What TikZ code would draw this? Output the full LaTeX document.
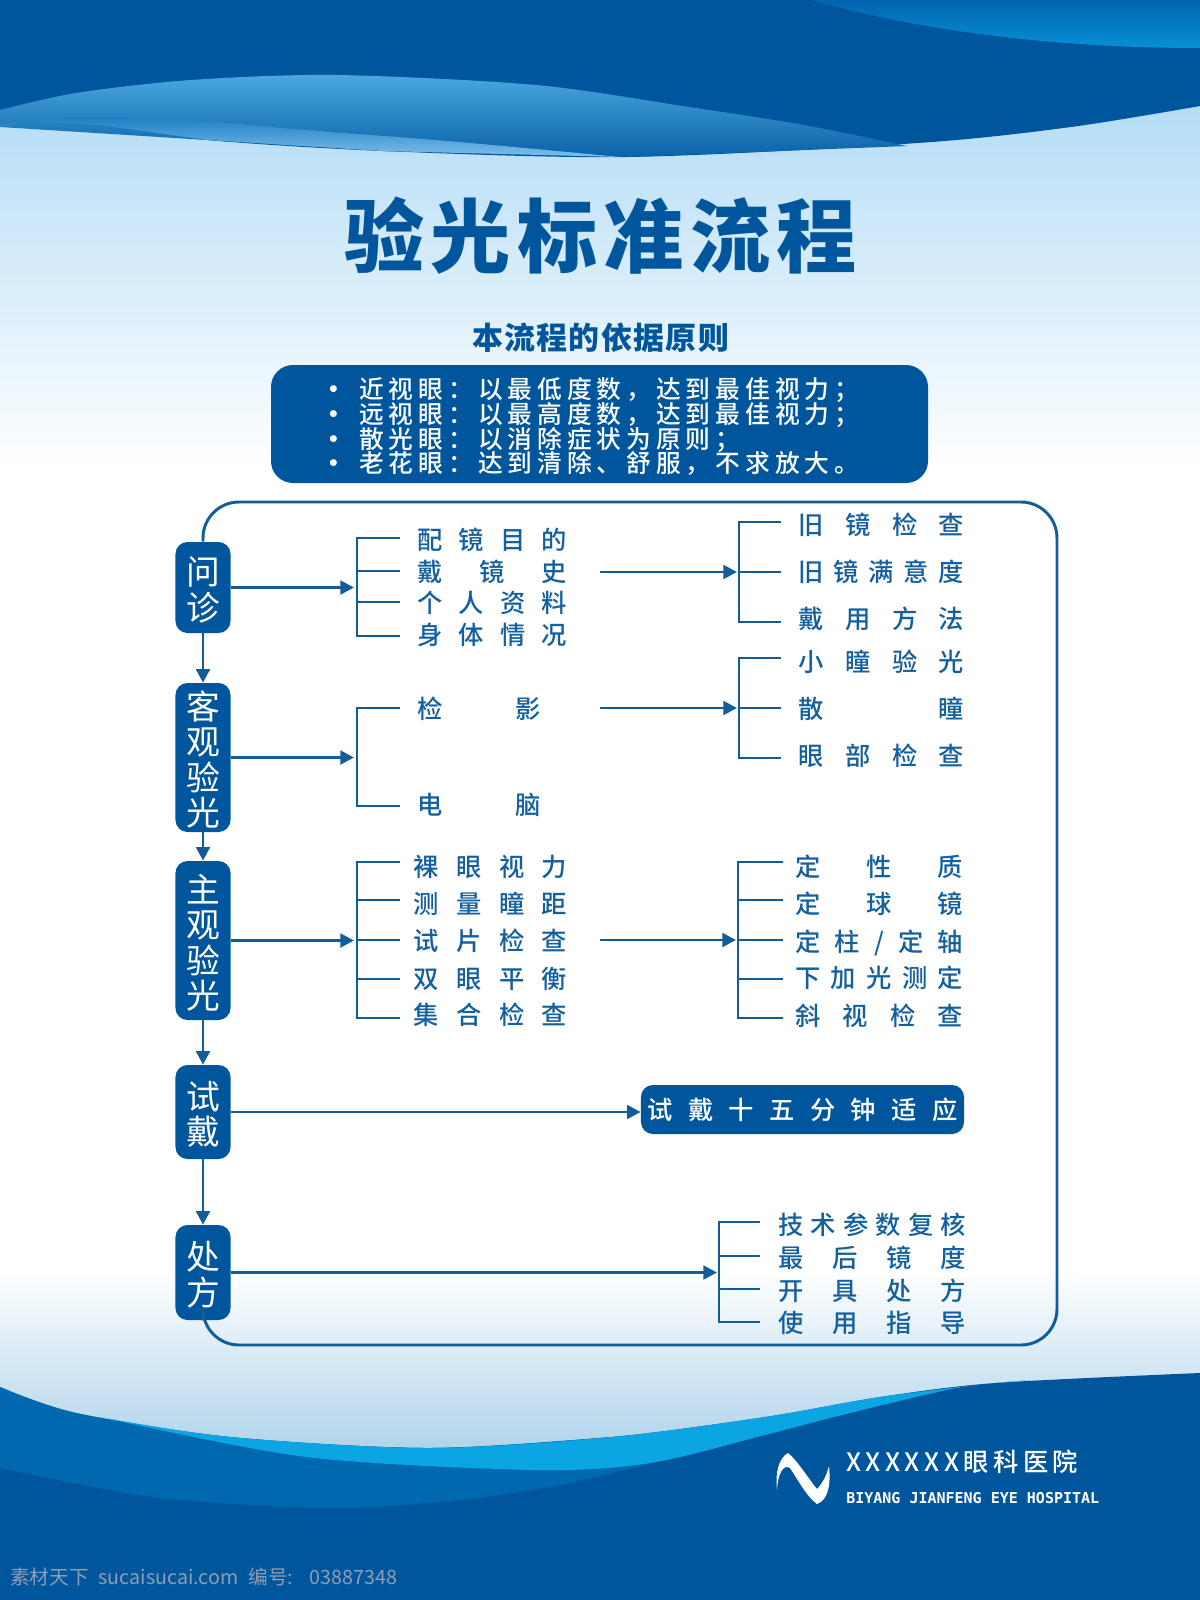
\documentclass[tikz,border=0pt]{standalone}
\usepackage{fontspec}
\setmainfont{Noto Sans CJK SC}
\newfontfamily\heavyfont{Noto Sans CJK SC Black}
\newfontfamily\itemfont{Noto Sans CJK SC Medium}
\newfontfamily\spacedfont[LetterSpace=20]{Noto Sans CJK SC Medium}
\setmonofont{DejaVu Sans Mono}
\usetikzlibrary{arrows.meta}
\definecolor{darkblue}{HTML}{00569C}
\definecolor{midblue}{HTML}{0068AE}
\definecolor{cyanblue}{HTML}{0AA5E2}
\definecolor{lineblue}{HTML}{145C98}
\definecolor{textblue}{HTML}{145F9E}
\definecolor{skyblue}{HTML}{B4DCF6}
\definecolor{wavetop}{HTML}{4AA8E0}
\definecolor{wavelow}{HTML}{0A62A8}
\definecolor{cornertop}{HTML}{0264AE}
\definecolor{cornerlow}{HTML}{0790D6}
\definecolor{foldtop}{HTML}{1E7EC4}
\definecolor{foldlow}{HTML}{7EBEEA}
\definecolor{markgrey}{HTML}{8F9DB4}
\newlength{\pxu}
\setlength{\pxu}{0.025cm}
\newcommand{\spread}[2]{\makebox[#1\pxu][s]{\spaceskip=0pt plus 1fil\relax #2}}
\newcommand{\stepbox}[4]{\node[stepnode, minimum height=#3*0.025cm] (#1) at (203,#2) {\rule{0pt}{23.5pt}#4};}
\newcommand{\itemlbl}[5]{\node[itemnode] (#1) at (#2,#3) {\spread{#4}{#5}};}
\newcommand{\branch}[4]{\coordinate (#1a) at (#2,#4); \coordinate (#1b) at (#3,#4); \draw[flowline] (#1a) -- (#1b);}
\newcommand{\ruledot}{\makebox[38\pxu][l]{\bfseries •}}
\tikzset{
  flowline/.style={draw=lineblue, line width=2.1pt},
  spine/.style={flowline, line cap=rect},
  flowarrow/.style={flowline, -{Triangle[length=0.34cm,width=0.34cm]}},
  stepnode/.style={fill=darkblue, text=white, rounded corners=0.3cm, minimum width=1.375cm, inner sep=0pt,
    align=center, font=\fontsize{24}{25.2}\selectfont},
  itemnode/.style={anchor=west, inner sep=0pt, text=textblue, text height=0.55cm, text depth=0.075cm,
    font=\fontsize{18}{20}\itemfont},
  rulenode/.style={anchor=west, inner sep=0pt, text=white, text height=0.55cm, text depth=0.075cm,
    font=\fontsize{17.6}{20}\spacedfont},
}
\def\topedge{(1200,106) (1071,127) (918,143) (628,157) (383,151) (207,140) (100,125) (30,121) (0,127)}
\def\botedge{(0,1387) (76,1413) (230,1437) (428,1448) (612,1437) (765,1417) (880,1397) (995,1383) (1200,1373)}
\begin{document}
\begin{tikzpicture}[x=0.025cm,y=-0.025cm]
    \useasboundingbox (0,0) rectangle (1200,1600);
    % background
    \shade[top color=skyblue, bottom color=white] (0,100) rectangle (1200,470);
    \shade[top color=white, bottom color=skyblue!95!black] (0,1270) rectangle (1200,1460);
    % top waves
    \fill[darkblue] (0,0) -- (1200,0) -- plot[smooth] coordinates {\topedge} -- cycle;
    \shade[top color=cornertop, bottom color=cornerlow] (811,0) .. controls (900,25) and (1030,48) .. (1200,48) -- (1200,0) -- cycle;
    \shade[top color=wavetop, bottom color=wavelow]
      plot[smooth] coordinates {(0,110) (76,93) (191,80) (337,75) (536,85) (689,107) (804,125) (907,146)}
      -- (628,157) -- (383,151) -- (207,140) -- (0,127) -- cycle;
    \shade[top color=foldtop, bottom color=foldlow]
      plot[smooth] coordinates {(0,125) (76,117) (191,120) (306,130) (459,142) (620,157)}
      -- (383,151) -- (207,140) -- (100,125) -- (30,121) -- (0,127) -- cycle;
    % bottom waves
    \fill[darkblue] plot[smooth] coordinates {\botedge} -- (1200,1600) -- (0,1600) -- cycle;
    \fill[midblue] plot[smooth] coordinates {(0,1387) (76,1413) (230,1437) (428,1448) (612,1437) (660,1432)}
      -- (650,1463) -- plot[smooth] coordinates {(650,1463) (560,1485) (459,1500) (329,1508) (153,1497) (0,1468)} -- cycle;
    \fill[cyanblue] plot[smooth] coordinates {(100,1417) (230,1437) (428,1448) (612,1437) (765,1417) (880,1397) (995,1383) (1033,1380)}
      -- plot[smooth] coordinates {(1033,1380) (957,1388) (842,1415) (765,1435) (650,1463) (536,1470) (306,1457) (100,1417)} -- cycle;
    % title
    \node[text=darkblue, inner sep=0pt, font=\fontsize{57}{60}\heavyfont] (title) at (600.5,236) {\spread{513}{验 光 标 准 流 程}};
    \node[text=darkblue, inner sep=0pt, font=\fontsize{22}{24}\bfseries] (subtitle) at (600.5,338) {\spread{257}{本 流 程 的 依 据 原 则}};
    % rules
    \fill[darkblue, rounded corners=0.55cm] (271,365) rectangle (928,483);
    \node[rulenode] (rule1) at (321,389) {\ruledot 近视眼：以最低度数，达到最佳视力；};
    \node[rulenode] (rule2) at (321,414) {\ruledot 远视眼：以最高度数，达到最佳视力；};
    \node[rulenode] (rule3) at (321,439) {\ruledot 散光眼：以消除症状为原则；};
    \node[rulenode] (rule4) at (321,463) {\ruledot 老花眼：达到清除、舒服，不求放大。};
    % steps
    \stepbox{wz}{587.5}{91}{问\\诊}
    \stepbox{kg}{757.5}{149}{客\\观\\验\\光}
    \stepbox{zg}{940.5}{159}{主\\观\\验\\光}
    \stepbox{sd}{1112}{94}{试\\戴}
    \stepbox{cf}{1272.5}{95}{处\\方}
    \draw[flowarrow] (wz) -- (kg);
    \draw[flowarrow] (kg) -- (zg);
    \draw[flowarrow] (zg) -- (sd);
    \draw[flowarrow] (sd) -- (cf);
    % frame
    \coordinate (frametl) at (203,502);
    \coordinate (frametr) at (1057,502);
    \coordinate (framebr) at (1057,1345);
    \coordinate (framebl) at (203,1345);
    \draw[flowline, rounded corners=0.9cm] (wz.north) -- (frametl) -- (frametr) -- (framebr) -- (framebl) -- (cf.south);
    % row1 left
    \itemlbl{wza1}{417}{540}{150}{配 镜 目 的}
    \itemlbl{wza2}{417}{572}{150}{戴 镜 史}
    \itemlbl{wza3}{417}{603}{150}{个 人 资 料}
    \itemlbl{wza4}{417}{635}{150}{身 体 情 况}
    \branch{wzs1}{357}{400}{538}
    \branch{wzs2}{357}{400}{571}
    \branch{wzs3}{357}{400}{602}
    \branch{wzs4}{357}{400}{636}
    \draw[spine] (wzs1a) -- (wzs4a);
    \coordinate (wzin) at (354,587.5);
    \draw[flowarrow] (wz) -- (wzin);
    % row1 right
    \itemlbl{wzb1}{798}{525}{166}{旧 镜 检 查}
    \itemlbl{wzb2}{798}{572}{166}{旧 镜 满 意 度}
    \itemlbl{wzb3}{798}{619}{166}{戴 用 方 法}
    \branch{wzt1}{739}{781}{522}
    \branch{wzt2}{739}{781}{572}
    \branch{wzt3}{739}{781}{622}
    \draw[spine] (wzt1a) -- (wzt3a);
    \coordinate (wzout) at (600,572);
    \coordinate (wzend) at (737,572);
    \draw[flowarrow] (wzout) -- (wzend);
    % row2 left
    \itemlbl{kga1}{417}{709}{124}{检 影}
    \itemlbl{kga2}{417}{805}{124}{电 脑}
    \branch{kgs1}{357}{400}{708}
    \branch{kgs2}{357}{400}{806}
    \draw[spine] (kgs1a) -- (kgs2a);
    \coordinate (kgin) at (354,757.5);
    \draw[flowarrow] (kg) -- (kgin);
    % row2 right
    \itemlbl{kgb1}{798}{662}{166}{小 瞳 验 光}
    \itemlbl{kgb2}{798}{709}{166}{散 瞳}
    \itemlbl{kgb3}{798}{756}{166}{眼 部 检 查}
    \branch{kgt1}{739}{781}{658}
    \branch{kgt2}{739}{781}{708}
    \branch{kgt3}{739}{781}{758}
    \draw[spine] (kgt1a) -- (kgt3a);
    \coordinate (kgout) at (600,708);
    \coordinate (kgend) at (737,708);
    \draw[flowarrow] (kgout) -- (kgend);
    % row3 left
    \itemlbl{zga1}{413}{867}{154}{裸 眼 视 力}
    \itemlbl{zga2}{413}{904}{154}{测 量 瞳 距}
    \itemlbl{zga3}{413}{941}{154}{试 片 检 查}
    \itemlbl{zga4}{413}{979}{154}{双 眼 平 衡}
    \itemlbl{zga5}{413}{1015}{154}{集 合 检 查}
    \branch{zgs1}{357}{400}{862}
    \branch{zgs2}{357}{400}{900}
    \branch{zgs3}{357}{400}{940}
    \branch{zgs4}{357}{400}{979}
    \branch{zgs5}{357}{400}{1018}
    \draw[spine] (zgs1a) -- (zgs5a);
    \coordinate (zgin) at (354,940.5);
    \draw[flowarrow] (zg) -- (zgin);
    % row3 right
    \itemlbl{zgb1}{795}{867}{168}{定 性 质}
    \itemlbl{zgb2}{795}{904}{168}{定 球 镜}
    \itemlbl{zgb3}{795}{942}{168}{定 柱 / 定 轴}
    \itemlbl{zgb4}{795}{978}{168}{下 加 光 测 定}
    \itemlbl{zgb5}{795}{1016}{168}{斜 视 检 查}
    \branch{zgt1}{738}{783}{862}
    \branch{zgt2}{738}{783}{900}
    \branch{zgt3}{738}{783}{940}
    \branch{zgt4}{738}{783}{979}
    \branch{zgt5}{738}{783}{1018}
    \draw[spine] (zgt1a) -- (zgt5a);
    \coordinate (zgout) at (600,940);
    \coordinate (zgend) at (736,940);
    \draw[flowarrow] (zgout) -- (zgend);
    % row4
    \node[fill=darkblue, text=white, rounded corners=0.3cm, minimum width=8.075cm, minimum height=1.225cm, inner sep=0pt,
      font=\fontsize{18}{20}\itemfont] (sdr) at (802.5,1109.5) {\spread{310}{试 戴 十 五 分 钟 适 应}};
    \draw[flowarrow] (sd) -- (sd -| sdr.west);
    % row5
    \itemlbl{cfb1}{778}{1225}{188}{技 术 参 数 复 核}
    \itemlbl{cfb2}{778}{1258}{188}{最 后 镜 度}
    \itemlbl{cfb3}{778}{1291}{188}{开 具 处 方}
    \itemlbl{cfb4}{778}{1323}{188}{使 用 指 导}
    \branch{cft1}{719}{760}{1222}
    \branch{cft2}{719}{760}{1256}
    \branch{cft3}{719}{760}{1289}
    \branch{cft4}{719}{760}{1322}
    \draw[spine] (cft1a) -- (cft4a);
    \coordinate (cfin) at (717,1272.5);
    \draw[flowarrow] (cf) -- (cfin);
    % logo
    \fill[white] (777,1490) .. controls (775,1472) and (779,1458) .. (788,1453)
      .. controls (797,1460) and (808,1478) .. (817,1489) .. controls (822,1484) and (827,1475) .. (829,1466)
      .. controls (831,1485) and (828,1500) .. (817,1504) .. controls (806,1496) and (797,1478) .. (790,1468)
      .. controls (784,1464) and (778,1472) .. (777,1490) -- cycle;
    \node[anchor=west, inner sep=0pt, text=white, font=\fontsize{18}{20}\itemfont] (hospital) at (846,1462) {\spread{232}{X X X X X X 眼 科 医 院}};
    \node[anchor=west, inner sep=0pt, text=white, font=\fontsize{10.67}{12}\ttfamily\bfseries] (hospitalen) at (846,1498) {BIYANG JIANFENG EYE HOSPITAL};
    % watermark
    \node[anchor=west, inner sep=0pt, text=markgrey, font=\fontsize{14}{16}\selectfont] (mark) at (10,1577) {\makebox[387\pxu][s]{素材天下 sucaisucai.com 编号: 03887348}};
\end{tikzpicture}
\end{document}
